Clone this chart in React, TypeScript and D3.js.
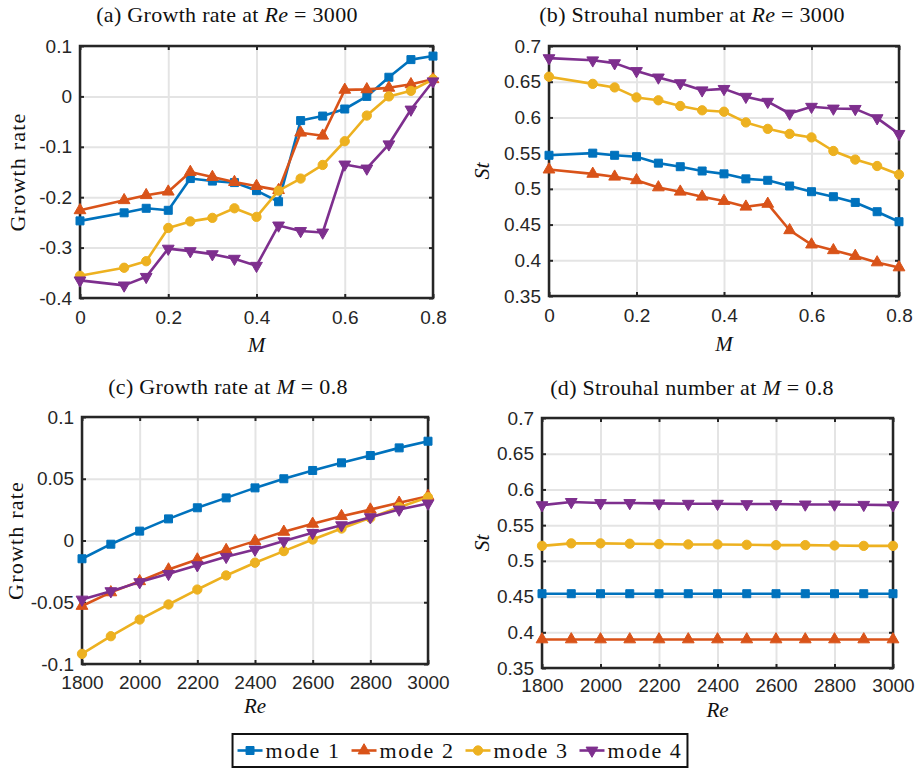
import React, { useEffect, useRef } from "react";
import * as d3 from "d3";

// ---- data ----
const modeNames = ["mode 1", "mode 2", "mode 3", "mode 4"];
const modeColors = ["#0072BD", "#D95319", "#EDB120", "#7E2F8E"];

const machValues = [0, 0.1, 0.15, 0.2, 0.25, 0.3, 0.35, 0.4, 0.45, 0.5, 0.55, 0.6, 0.65, 0.7, 0.75, 0.8];
const reValues = [1800, 1900, 2000, 2100, 2200, 2300, 2400, 2500, 2600, 2700, 2800, 2900, 3000];

// (a) growth rate vs M at Re = 3000
const growthM1 = [-0.247, -0.231, -0.222, -0.226, -0.163, -0.168, -0.171, -0.187, -0.209, -0.048, -0.039, -0.025, 0.0, 0.038, 0.073, 0.08];
const growthM2 = [-0.226, -0.206, -0.196, -0.189, -0.15, -0.16, -0.17, -0.178, -0.186, -0.072, -0.078, 0.013, 0.014, 0.017, 0.024, 0.034];
const growthM3 = [-0.356, -0.34, -0.327, -0.261, -0.248, -0.241, -0.222, -0.239, -0.187, -0.163, -0.136, -0.089, -0.038, 0.0, 0.011, 0.034];
const growthM4 = [-0.365, -0.375, -0.358, -0.302, -0.307, -0.313, -0.322, -0.336, -0.256, -0.267, -0.27, -0.135, -0.143, -0.095, -0.026, 0.03];

// (b) Strouhal number vs M at Re = 3000
const stM1 = [0.547, 0.55, 0.547, 0.545, 0.536, 0.531, 0.525, 0.521, 0.514, 0.512, 0.504, 0.496, 0.489, 0.481, 0.468, 0.454];
const stM2 = [0.527, 0.521, 0.517, 0.512, 0.502, 0.496, 0.489, 0.483, 0.475, 0.479, 0.442, 0.422, 0.414, 0.406, 0.397, 0.39];
const stM3 = [0.657, 0.647, 0.642, 0.628, 0.624, 0.616, 0.61, 0.608, 0.593, 0.584, 0.577, 0.572, 0.553, 0.541, 0.532, 0.52];
const stM4 = [0.683, 0.68, 0.676, 0.665, 0.656, 0.648, 0.638, 0.64, 0.629, 0.622, 0.6055, 0.615, 0.6125, 0.612, 0.599, 0.577];

// (c) growth rate vs Re at M = 0.8
const growthRe1 = [-0.0148, -0.003, 0.0076, 0.0175, 0.0265, 0.0345, 0.0426, 0.05, 0.0567, 0.0629, 0.0688, 0.075, 0.0804];
const growthRe2 = [-0.053, -0.042, -0.033, -0.0235, -0.0154, -0.0078, -0.0005, 0.007, 0.0135, 0.0197, 0.025, 0.0305, 0.0359];
const growthRe3 = [-0.0918, -0.0775, -0.064, -0.0518, -0.0397, -0.0283, -0.018, -0.0086, 0.0008, 0.0097, 0.0184, 0.027, 0.035];
const growthRe4 = [-0.0478, -0.041, -0.0337, -0.027, -0.02, -0.0132, -0.0073, -0.0005, 0.0062, 0.0124, 0.0189, 0.0251, 0.03];

// (d) Strouhal number vs Re at M = 0.8
const stRe1 = [0.454, 0.454, 0.454, 0.454, 0.454, 0.454, 0.454, 0.454, 0.454, 0.454, 0.454, 0.454, 0.454];
const stRe2 = [0.39, 0.39, 0.39, 0.39, 0.39, 0.39, 0.39, 0.39, 0.39, 0.39, 0.39, 0.39, 0.39];
const stRe3 = [0.521, 0.5245, 0.5245, 0.524, 0.5235, 0.523, 0.523, 0.5225, 0.522, 0.522, 0.5215, 0.521, 0.521];
const stRe4 = [0.578, 0.5825, 0.581, 0.581, 0.5805, 0.58, 0.58, 0.5795, 0.5795, 0.579, 0.579, 0.5785, 0.578];

// ticks
const machTicks = [0, 0.2, 0.4, 0.6, 0.8];
const reTicks = [1800, 2000, 2200, 2400, 2600, 2800, 3000];
const growthMTicks = [-0.4, -0.3, -0.2, -0.1, 0, 0.1];
const growthReTicks = [-0.1, -0.05, 0, 0.05, 0.1];
const stTicks = [0.35, 0.4, 0.45, 0.5, 0.55, 0.6, 0.65, 0.7];

const SERIF = "'Liberation Serif', 'Times New Roman', serif";
const SANS = "'Liberation Sans', Arial, Helvetica, sans-serif";
const INK = "#262626";
const GRID = "#e4e4e4";

const fmt = (v: number) => String(+v.toFixed(2));

const panels = [
  {
    title: ["(a) Growth rate at ", "Re", " = 3000"], titleX: 227, titleY: 22,
    box: { left: 80, right: 433, top: 46, bottom: 298 },
    xs: machValues, xDomain: [0, 0.8], xTicks: machTicks,
    yDomain: [-0.4, 0.1], yTicks: growthMTicks,
    series: [growthM1, growthM2, growthM3, growthM4],
    xLabel: "M", xPad: 13, xLabelDy: 54, yLabel: "Growth rate", yItalic: false, yLabelX: 25,
  },
  {
    title: ["(b) Strouhal number at ", "Re", " = 3000"], titleX: 692, titleY: 22,
    box: { left: 549, right: 899, top: 46, bottom: 296 },
    xs: machValues, xDomain: [0, 0.8], xTicks: machTicks,
    yDomain: [0.35, 0.7], yTicks: stTicks,
    series: [stM1, stM2, stM3, stM4],
    xLabel: "M", xPad: 13, xLabelDy: 55, yLabel: "St", yItalic: true, yLabelX: 489,
  },
  {
    title: ["(c) Growth rate at ", "M", " = 0.8"], titleX: 228, titleY: 394,
    box: { left: 82, right: 428, top: 417, bottom: 664 },
    xs: reValues, xDomain: [1800, 3000], xTicks: reTicks,
    yDomain: [-0.1, 0.1], yTicks: growthReTicks,
    series: [growthRe1, growthRe2, growthRe3, growthRe4],
    xLabel: "Re", xPad: 12, xLabelDy: 49, yLabel: "Growth rate", yItalic: false, yLabelX: 23,
  },
  {
    title: ["(d) Strouhal number at ", "M", " = 0.8"], titleX: 692, titleY: 395,
    box: { left: 542, right: 893, top: 418, bottom: 668 },
    xs: reValues, xDomain: [1800, 3000], xTicks: reTicks,
    yDomain: [0.35, 0.7], yTicks: stTicks,
    series: [stRe1, stRe2, stRe3, stRe4],
    xLabel: "Re", xPad: 11, xLabelDy: 49, yLabel: "St", yItalic: true, yLabelX: 489,
  },
];

function markerPath(i: number) {
  if (i === 0) return d3.symbol().type(d3.symbolSquare).size(64)();
  if (i === 2) return d3.symbol().type(d3.symbolCircle).size(68)();
  return d3.symbol().type(d3.symbolTriangle).size(60)();
}

function drawMarker(g: any, i: number, cx: number, cy: number) {
  g.append("path")
    .attr("d", markerPath(i))
    .attr("transform", `translate(${cx},${cy})` + (i === 3 ? " rotate(180)" : ""))
    .attr("fill", modeColors[i])
    .attr("stroke", modeColors[i])
    .attr("stroke-width", 1);
}

function drawPanel(svg: any, p: any) {
  const { left, right, top, bottom } = p.box;
  const x = d3.scaleLinear().domain(p.xDomain).range([left, right]);
  const y = d3.scaleLinear().domain(p.yDomain).range([bottom, top]);
  const g = svg.append("g");

  // grid
  g.append("g").attr("transform", `translate(0,${bottom})`)
    .call(d3.axisBottom(x).tickValues(p.xTicks).tickSize(-(bottom - top)).tickFormat(() => ""))
    .call((s: any) => s.select(".domain").remove())
    .call((s: any) => s.selectAll("line").attr("stroke", GRID).attr("stroke-width", 2));
  g.append("g").attr("transform", `translate(${left},0)`)
    .call(d3.axisLeft(y).tickValues(p.yTicks).tickSize(-(right - left)).tickFormat(() => ""))
    .call((s: any) => s.select(".domain").remove())
    .call((s: any) => s.selectAll("line").attr("stroke", GRID).attr("stroke-width", 2));

  // inward ticks on all four sides, labels bottom/left
  const styleAxis = (s: any) => {
    s.select(".domain").remove();
    s.selectAll("line").attr("stroke", INK).attr("stroke-width", 2);
    s.selectAll("text").attr("fill", INK).attr("font-family", SANS).attr("font-size", 19);
  };
  g.append("g").attr("transform", `translate(0,${bottom})`)
    .call(d3.axisBottom(x).tickValues(p.xTicks).tickSize(-4).tickPadding(p.xPad).tickFormat((d: any) => fmt(d)))
    .call(styleAxis);
  g.append("g").attr("transform", `translate(0,${top})`)
    .call(d3.axisTop(x).tickValues(p.xTicks).tickSize(-4).tickFormat(() => ""))
    .call(styleAxis);
  g.append("g").attr("transform", `translate(${left},0)`)
    .call(d3.axisLeft(y).tickValues(p.yTicks).tickSize(-4).tickPadding(8).tickFormat((d: any) => fmt(d)))
    .call(styleAxis);
  g.append("g").attr("transform", `translate(${right},0)`)
    .call(d3.axisRight(y).tickValues(p.yTicks).tickSize(-4).tickFormat(() => ""))
    .call(styleAxis);

  // box
  g.append("rect")
    .attr("x", left).attr("y", top)
    .attr("width", right - left).attr("height", bottom - top)
    .attr("fill", "none").attr("stroke", INK).attr("stroke-width", 2.5);

  // series
  const line = d3.line<number>().x((_d, i) => x(p.xs[i])).y((d) => y(d));
  p.series.forEach((vals: number[], k: number) => {
    g.append("path").datum(vals)
      .attr("d", line)
      .attr("fill", "none")
      .attr("stroke", modeColors[k])
      .attr("stroke-width", 2.6)
      .attr("stroke-linejoin", "round");
    vals.forEach((v, i) => drawMarker(g, k, x(p.xs[i]), y(v)));
  });

  // title
  const t = g.append("text")
    .attr("x", p.titleX).attr("y", p.titleY)
    .attr("text-anchor", "middle")
    .attr("font-family", SERIF).attr("font-size", 22).attr("letter-spacing", 0.3)
    .attr("fill", "#111");
  t.append("tspan").text(p.title[0]);
  t.append("tspan").attr("font-style", "italic").text(p.title[1]);
  t.append("tspan").text(p.title[2]);

  // x label
  g.append("text")
    .attr("x", (left + right) / 2).attr("y", bottom + p.xLabelDy)
    .attr("text-anchor", "middle")
    .attr("font-family", SERIF).attr("font-size", 21).attr("font-style", "italic")
    .attr("fill", "#111")
    .text(p.xLabel);

  // y label
  g.append("text")
    .attr("transform", `translate(${p.yLabelX},${(top + bottom) / 2}) rotate(-90)`)
    .attr("text-anchor", "middle")
    .attr("font-family", SERIF).attr("font-size", 22)
    .attr("font-style", p.yItalic ? "italic" : "normal")
    .attr("letter-spacing", p.yItalic ? 0 : 1.2)
    .attr("fill", "#111")
    .text(p.yLabel);
}

function drawLegend(svg: any) {
  const g = svg.append("g");
  const boxTop = 734, boxBottom = 767;
  const midY = (boxTop + boxBottom) / 2;
  const box = g.append("rect")
    .attr("y", boxTop).attr("height", boxBottom - boxTop)
    .attr("fill", "#fff").attr("stroke", "#111").attr("stroke-width", 2);
  const items = g.append("g");
  let cx = 0;
  modeNames.forEach((name, i) => {
    const it = items.append("g").attr("transform", `translate(${cx},0)`);
    it.append("line").attr("x1", 0).attr("x2", 25).attr("y1", midY).attr("y2", midY)
      .attr("stroke", modeColors[i]).attr("stroke-width", 2.6);
    drawMarker(it, i, 12.5, midY);
    const txt = it.append("text")
      .attr("x", 28).attr("y", midY + 7)
      .attr("font-family", SERIF).attr("font-size", 22).attr("letter-spacing", 1.6)
      .attr("fill", "#111")
      .text(name);
    const w = (txt.node() as SVGTextElement).getComputedTextLength();
    cx += 28 + w + 11;
  });
  const total = cx - 11 + 10;
  const bx = 460 - total / 2;
  box.attr("x", bx).attr("width", total);
  items.attr("transform", `translate(${bx + 5},0)`);
}

export default function App() {
  const ref = useRef<SVGSVGElement>(null);
  useEffect(() => {
    document.body.style.margin = "0";
    const svg = d3.select(ref.current);
    svg.selectAll("*").remove();
    panels.forEach((p) => drawPanel(svg, p));
    drawLegend(svg);
  }, []);
  return <svg ref={ref} width={922} height={768} style={{ display: "block", background: "#fff" }} />;
}
